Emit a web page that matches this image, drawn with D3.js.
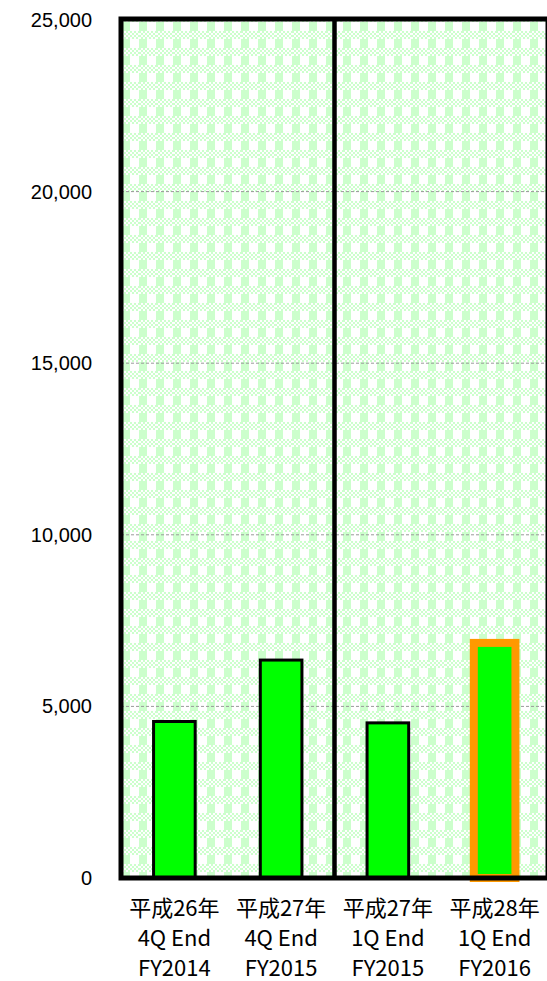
<!DOCTYPE html>
<html lang="ja">

<head>
    <meta charset="UTF-8">
    <title>chart</title>
    <script src="https://d3js.org/d3.v7.min.js"></script>
    <style>
        body {
            margin: 0;
            background: #ffffff;
        }

        .svg_d3 {
            display: block;
        }

        #plaid rect {
            shape-rendering: crispEdges;
        }
    </style>
</head>

<body>
    <div class="div1"></div>

    <script>
        // values
        var eraLabels = ['平成26年', '平成27年', '平成27年', '平成28年'];
        var quarterLabels = ['4Q End', '4Q End', '1Q End', '1Q End'];
        var fyLabels = ['FY2014', 'FY2015', 'FY2015', 'FY2016'];
        var values = [4560, 6350, 4520, 6850];
        var yTicks = [0, 5000, 10000, 15000, 20000, 25000];
        var gridTicks = [5000, 10000, 15000, 20000];

        var width = 547;
        var height = 981;
        var plotLeft = 121;
        var plotRight = 548;
        var plotTop = 20;
        var plotBottom = 878;

        var svg = d3.select('.div1')
            .append('svg')
            .attr('class', 'svg_d3')
            .attr('width', width)
            .attr('height', height);

        var xscale = d3.scaleBand()
            .domain(d3.range(values.length))
            .range([plotLeft, plotRight])
            .paddingInner(0)
            .paddingOuter(0);

        var yscale = d3.scaleLinear()
            .domain([0, 25000])
            .range([plotBottom, plotTop]);

        // plaid fill (excel style), 8x8 cells scaled up
        var cell = 2;
        var pat = svg.append('defs')
            .append('pattern')
            .attr('id', 'plaid')
            .attr('patternUnits', 'userSpaceOnUse')
            .attr('x', plotLeft + 1)
            .attr('y', plotTop + 2)
            .attr('width', 17)
            .attr('height', 17);
        pat.append('rect')
            .attr('width', 17)
            .attr('height', 17)
            .attr('fill', '#ffffff');
        pat.append('rect')
            .attr('width', 8)
            .attr('height', 9)
            .attr('fill', '#ccffcc');
        for (var r = 0; r < 4; r++) {
            for (var c = 0; c < 9; c++) {
                if ((r + c) % 2 == 0) {
                    pat.append('rect')
                        .attr('x', c * cell)
                        .attr('y', 9 + r * cell)
                        .attr('width', cell)
                        .attr('height', cell)
                        .attr('fill', '#ccffcc');
                }
            }
        }

        svg.append('rect')
            .attr('x', plotLeft)
            .attr('y', plotTop)
            .attr('width', plotRight - plotLeft)
            .attr('height', plotBottom - plotTop)
            .attr('fill', 'url(#plaid)');

        // dashed grid
        svg.append('g')
            .selectAll('line')
            .data(gridTicks)
            .enter()
            .append('line')
            .attr('x1', plotLeft)
            .attr('x2', plotRight)
            .attr('y1', function (d) { return yscale(d); })
            .attr('y2', function (d) { return yscale(d); })
            .attr('stroke', '#999999')
            .attr('stroke-width', 1)
            .attr('stroke-dasharray', '3,2');

        // bars
        var barW = xscale.bandwidth() * 0.39;
        svg.append('g')
            .selectAll('rect')
            .data(values)
            .enter()
            .append('rect')
            .attr('x', function (d, i) { return xscale(i) + (xscale.bandwidth() - barW) / 2; })
            .attr('y', function (d) { return yscale(d); })
            .attr('width', barW)
            .attr('height', function (d) { return plotBottom - yscale(d); })
            .attr('fill', '#00ff00')
            .attr('stroke', function (d, i) { return i == values.length - 1 ? '#ff9900' : '#000000'; })
            .attr('stroke-width', function (d, i) { return i == values.length - 1 ? 8 : 3; });

        // frame and divider between the two groups
        svg.append('rect')
            .attr('x', plotLeft)
            .attr('y', plotTop - 1)
            .attr('width', plotRight - plotLeft)
            .attr('height', plotBottom - plotTop + 1)
            .attr('fill', 'none')
            .attr('stroke', '#000000')
            .attr('stroke-width', 5);

        svg.append('line')
            .attr('x1', xscale(2))
            .attr('x2', xscale(2))
            .attr('y1', plotTop)
            .attr('y2', plotBottom)
            .attr('stroke', '#000000')
            .attr('stroke-width', 4.5);

        // y axis labels
        var yaxis = d3.axisLeft()
            .scale(yscale)
            .tickValues(yTicks)
            .tickSize(0)
            .tickPadding(0)
            .tickFormat(d3.format(','));

        var yg = svg.append('g')
            .attr('transform', 'translate(92,0)')
            .call(yaxis);
        yg.select('.domain').remove();
        yg.selectAll('text')
            .attr('font-family', 'Liberation Sans, Arial, sans-serif')
            .attr('font-size', 20)
            .attr('fill', '#000000');

        // x labels, three lines each
        var lines = [eraLabels, quarterLabels, fyLabels];
        var lineY = [916, 946, 976];
        for (var k = 0; k < lines.length; k++) {
            svg.append('g')
                .selectAll('text')
                .data(lines[k])
                .enter()
                .append('text')
                .attr('x', function (d, i) { return xscale(i) + xscale.bandwidth() / 2; })
                .attr('y', lineY[k])
                .attr('text-anchor', 'middle')
                .attr('font-family', 'Noto Sans CJK JP, sans-serif')
                .attr('font-size', 22)
                .attr('fill', '#000000')
                .text(function (d) { return d; });
        }
    </script>
</body>

</html>
